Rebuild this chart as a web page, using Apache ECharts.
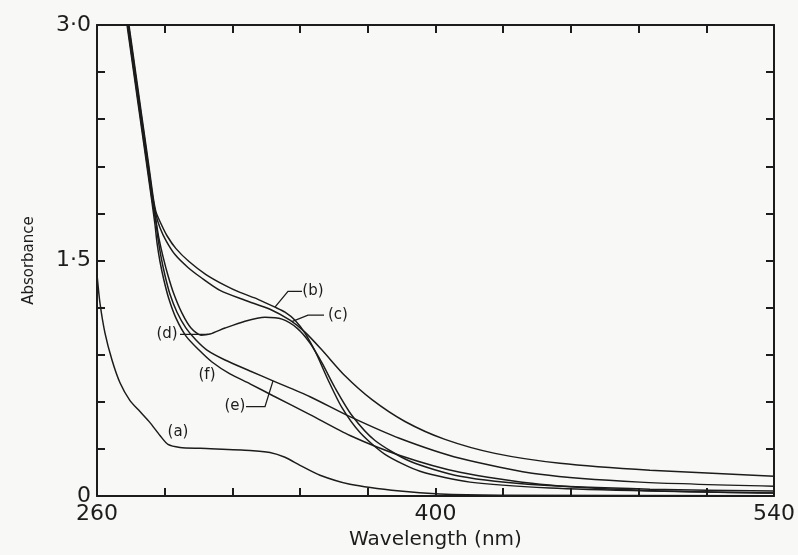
<!DOCTYPE html>
<html>
<head>
<meta charset="utf-8">
<script src="https://cdn.jsdelivr.net/npm/echarts@6/dist/echarts.min.js"></script>
<style>
  html, body { margin: 0; padding: 0; background: #f8f8f6; }
  #chart { width: 798px; height: 555px; }
</style>
</head>
<body>
<div id="chart"></div>
<script>
// Absorption spectra, [wavelength (nm), absorbance]
const curveA = [[260,1.411],[261.24,1.228],[263.31,1.038],[266.2,0.867],[269.51,0.722],[273.65,0.608],[277.78,0.538],[281.92,0.468],[286.05,0.386],[289.36,0.329],[294.33,0.31],[302.6,0.304],[323.28,0.291],[331.55,0.278],[337.75,0.247],[343.95,0.196],[352.23,0.133],[364.63,0.076],[385.31,0.032],[401.85,0.013],[426.67,0.006],[540,0.003]];
const curveB = [[272.35,3.095],[273.22,3.0],[274.96,2.81],[276.69,2.62],[278.43,2.43],[280.17,2.241],[281.91,2.051],[283.35,1.892],[284.4,1.81],[286.47,1.734],[288.95,1.658],[292.67,1.576],[298.05,1.494],[305.08,1.411],[312.94,1.342],[319.14,1.297],[326.58,1.253],[333.61,1.203],[337.75,1.171],[341.89,1.12],[346.02,1.038],[350.57,0.911],[355.53,0.741],[361.32,0.563],[368.77,0.405],[379.11,0.266],[393.58,0.158],[414.26,0.089],[447.35,0.051],[488.7,0.032],[540,0.019]];
const curveC = [[272.15,3.095],[273.02,3.0],[274.76,2.81],[276.49,2.62],[278.23,2.43],[279.97,2.241],[281.71,2.051],[283.15,1.892],[284.4,1.791],[286.05,1.709],[288.54,1.627],[292.26,1.538],[297.63,1.456],[303.01,1.392],[310.87,1.31],[321.21,1.247],[331.55,1.19],[339.82,1.12],[346.02,1.044],[353.05,0.93],[362.56,0.766],[373.73,0.614],[387.38,0.475],[403.92,0.361],[424.6,0.272],[451.49,0.209],[488.7,0.165],[540,0.127]];
const curveD = [[271.95,3.095],[272.82,3.0],[274.56,2.81],[276.29,2.62],[278.03,2.43],[279.77,2.241],[281.51,2.051],[282.95,1.892],[284.4,1.753],[285.64,1.639],[287.3,1.525],[289.36,1.405],[291.84,1.285],[295.15,1.165],[298.88,1.07],[303.01,1.025],[306.73,1.032],[312.94,1.07],[321.21,1.114],[329.48,1.139],[336.51,1.127],[342.71,1.07],[348.09,0.975],[353.05,0.848],[358.43,0.69],[365.46,0.513],[374.97,0.354],[389.45,0.222],[410.12,0.127],[443.21,0.07],[488.7,0.044],[540,0.032]];
const curveE = [[271.75,3.095],[272.62,3.0],[274.36,2.81],[276.09,2.62],[277.83,2.43],[279.57,2.241],[281.31,2.051],[282.75,1.892],[284.4,1.741],[285.23,1.639],[286.47,1.525],[288.12,1.405],[290.19,1.285],[293.09,1.171],[296.81,1.07],[300.94,0.994],[305.49,0.93],[312.94,0.867],[323.28,0.797],[332.79,0.734],[348.09,0.633],[364.63,0.506],[385.31,0.367],[410.12,0.241],[443.21,0.139],[484.57,0.089],[540,0.063]];
const curveF = [[271.55,3.095],[272.42,3.0],[274.16,2.81],[275.89,2.62],[277.63,2.43],[279.37,2.241],[281.11,2.051],[282.55,1.892],[283.99,1.728],[284.81,1.614],[286.05,1.494],[287.71,1.373],[289.78,1.253],[292.67,1.133],[296.81,1.019],[302.19,0.93],[307.56,0.854],[315.0,0.778],[323.28,0.715],[332.79,0.639],[348.09,0.519],[364.63,0.386],[385.31,0.259],[410.12,0.152],[443.21,0.076],[484.57,0.038],[540,0.019]];

// Axis ticks and labels
const xTicks = [260,288,316,344,372,400,428,456,484,512,540];
const xLabels = [260,400,540];
const yTicks = [0,0.3,0.6,0.9,1.2,1.5,1.8,2.1,2.4,2.7,3.0];
const yLabels = [0,1.5,3.0];

// Curve tags: text at [nm, A]; optional leader through [nm, A] points, ending on the curve at wavelength `at`
const curveTags = [
  { text: '(a)', pos: [293.5, 0.405] },
  { text: '(b)', pos: [349.33, 1.304], leader: [[344.78,1.304],[338.99,1.304]], curve: 'b', at: 333.6 },
  { text: '(c)', pos: [359.67, 1.152], leader: [[353.88,1.152],[347.26,1.152]], curve: 'c', at: 340.6 },
  { text: '(d)', pos: [288.95, 1.03], leader: [[294.33,1.03]], curve: 'd', at: 305.9 },
  { text: '(e)', pos: [317.07, 0.57], leader: [[321.62,0.57],[329.48,0.57]], curve: 'e', at: 332.79 },
  { text: '(f)', pos: [305.49, 0.772] }
];

const curves = { a: curveA, b: curveB, c: curveC, d: curveD, e: curveE, f: curveF };

function valueOnCurve(data, wl) {
  for (let i = 1; i < data.length; i++) {
    if (data[i][0] >= wl) {
      const [x0, y0] = data[i - 1], [x1, y1] = data[i];
      return y0 + (y1 - y0) * (wl - x0) / (x1 - x0);
    }
  }
  return data[data.length - 1][1];
}

const ink = '#1c1c1c';
const fontFamily = 'DejaVu Sans, sans-serif';
const fmt = v => (v === 0 ? '0' : v.toFixed(1).replace('.', '\u00b7'));

const frameAxisLine = { show: true, onZero: false, lineStyle: { color: ink, width: 2 } };
const tickStyle = { show: true, inside: true, length: 8, lineStyle: { color: ink, width: 2 } };

const chart = echarts.init(document.getElementById('chart'), null, { renderer: 'canvas' });

const lineSeries = Object.keys(curves).map(k => ({
  type: 'line',
  name: k,
  data: curves[k],
  showSymbol: false,
  smooth: 0.25,
  clip: true,
  lineStyle: { color: ink, width: 1.5 },
  silent: true,
  z: 3
}));

chart.setOption({
  animation: false,
  backgroundColor: '#f8f8f6',
  grid: { left: 97, right: 24, top: 25, bottom: 56 },
  xAxis: [
    {
      type: 'value', min: 260, max: 540, position: 'bottom',
      axisLine: frameAxisLine,
      axisTick: Object.assign({ customValues: xTicks }, tickStyle),
      axisLabel: { customValues: xLabels, color: ink, fontSize: 22, fontFamily, margin: 7 },
      splitLine: { show: false },
      name: 'Wavelength (nm)', nameLocation: 'middle', nameGap: 31,
      nameTextStyle: { color: ink, fontSize: 20, fontFamily }
    },
    {
      type: 'value', min: 260, max: 540, position: 'top',
      axisLine: frameAxisLine,
      axisTick: Object.assign({ customValues: xTicks }, tickStyle),
      axisLabel: { show: false },
      splitLine: { show: false }
    }
  ],
  yAxis: [
    {
      type: 'value', min: 0, max: 3, position: 'left',
      axisLine: frameAxisLine,
      axisTick: Object.assign({ customValues: yTicks }, tickStyle),
      axisLabel: { customValues: yLabels, formatter: fmt, color: ink, fontSize: 22, fontFamily, margin: 6 },
      splitLine: { show: false },
      name: 'Absorbance', nameLocation: 'middle', nameGap: 60, nameRotate: 90,
      nameTextStyle: { color: ink, fontSize: 15, fontFamily }
    },
    {
      type: 'value', min: 0, max: 3, position: 'right',
      axisLine: frameAxisLine,
      axisTick: Object.assign({ customValues: yTicks }, tickStyle),
      axisLabel: { show: false },
      splitLine: { show: false }
    }
  ],
  series: lineSeries
});

// Curve tags and leader lines, placed through the grid's coordinate system
const graphics = [];
curveTags.forEach(tag => {
  const p = chart.convertToPixel({ gridIndex: 0 }, tag.pos);
  graphics.push({
    type: 'text', x: p[0], y: p[1],
    style: { text: tag.text, fill: ink, font: '15px ' + fontFamily, textAlign: 'center', textVerticalAlign: 'middle' },
    z: 10
  });
  if (tag.leader) {
    const end = [tag.at, valueOnCurve(curves[tag.curve], tag.at)];
    const pts = tag.leader.concat([end]).map(v => chart.convertToPixel({ gridIndex: 0 }, v));
    graphics.push({
      type: 'polyline', shape: { points: pts },
      style: { stroke: ink, lineWidth: 1.3, fill: null }, z: 10
    });
  }
});
chart.setOption({ graphic: graphics });
</script>
</body>
</html>
